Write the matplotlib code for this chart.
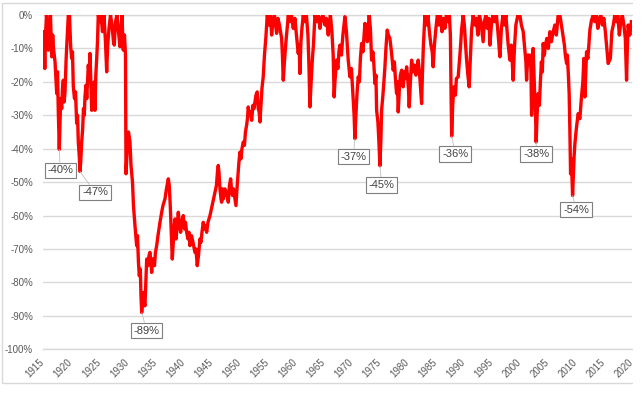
import numpy as np
import matplotlib.pyplot as plt
from matplotlib.patches import Rectangle
from matplotlib.ticker import FuncFormatter

# drawdown from previous high, in %
years = [
    1915.02, 1915.20, 1915.34, 1915.46, 1915.64, 1915.82, 1915.96, 1916.18, 1916.35, 1916.57,
    1916.75, 1916.89, 1917.16, 1917.30, 1917.46, 1917.60, 1917.74, 1917.92, 1918.05, 1918.17,
    1918.35, 1918.49, 1918.64, 1918.80, 1918.94, 1919.12, 1919.24, 1919.38, 1919.53, 1919.74,
    1919.95, 1920.13, 1920.27, 1920.42, 1920.63, 1920.81, 1921.02, 1921.17, 1921.31, 1921.49,
    1921.61, 1921.74, 1921.91, 1922.09, 1922.23, 1922.38, 1922.50, 1922.68, 1922.82, 1922.95,
    1923.09, 1923.25, 1923.39, 1923.54, 1923.70, 1923.84, 1923.98, 1924.14, 1924.28, 1924.43,
    1924.59, 1924.73, 1924.87, 1925.17, 1925.35, 1925.62, 1925.89, 1926.15, 1926.37, 1926.55,
    1926.78, 1927.05, 1927.31, 1927.58, 1927.72, 1927.94, 1928.20, 1928.47, 1928.74, 1928.92,
    1929.09, 1929.33, 1929.54, 1929.72, 1929.81, 1930.04, 1930.25, 1930.52, 1930.70, 1930.97,
    1931.14, 1931.41, 1931.71, 1931.86, 1932.03, 1932.18, 1932.36, 1932.48, 1932.61, 1932.78,
    1932.89, 1933.05, 1933.19, 1933.34, 1933.50, 1933.73, 1933.91, 1934.08, 1934.26, 1934.39,
    1934.53, 1934.67, 1934.89, 1935.06, 1935.28, 1935.51, 1935.69, 1935.87, 1936.17, 1936.40,
    1936.76, 1937.02, 1937.35, 1937.52, 1937.70, 1937.88, 1938.06, 1938.24, 1938.36, 1938.54,
    1938.72, 1938.84, 1938.98, 1939.13, 1939.31, 1939.55, 1939.70, 1940.02, 1940.23, 1940.41,
    1940.62, 1940.86, 1941.03, 1941.21, 1941.48, 1941.75, 1942.10, 1942.28, 1942.51, 1942.73,
    1942.99, 1943.17, 1943.35, 1943.58, 1943.80, 1943.97, 1944.19, 1944.42, 1944.60, 1944.78,
    1945.04, 1945.31, 1945.67, 1945.93, 1946.11, 1946.25, 1946.38, 1946.56, 1946.74, 1946.86,
    1947.00, 1947.18, 1947.45, 1947.63, 1947.81, 1948.04, 1948.25, 1948.46, 1948.61, 1948.79,
    1948.96, 1949.23, 1949.41, 1949.59, 1949.77, 1949.94, 1950.12, 1950.30, 1950.48, 1950.71,
    1950.92, 1951.10, 1951.31, 1951.46, 1951.60, 1951.81, 1951.99, 1952.21, 1952.44, 1952.62,
    1952.79, 1952.97, 1953.20, 1953.38, 1953.54, 1953.69, 1953.86, 1954.04, 1954.27, 1954.49,
    1954.75, 1954.99, 1955.29, 1955.56, 1955.77, 1956.00, 1956.27, 1956.66, 1956.89, 1957.16,
    1957.55, 1957.69, 1957.84, 1958.05, 1958.32, 1958.59, 1958.73, 1959.03, 1959.30, 1959.62,
    1959.92, 1960.19, 1960.51, 1960.67, 1960.81, 1960.99, 1961.17, 1961.40, 1961.70, 1961.97,
    1962.24, 1962.42, 1962.59, 1962.81, 1963.04, 1963.22, 1963.49, 1963.84, 1964.11, 1964.38,
    1964.64, 1964.91, 1965.27, 1965.53, 1965.86, 1966.07, 1966.25, 1966.51, 1966.74, 1966.91,
    1967.05, 1967.35, 1967.58, 1967.76, 1967.94, 1968.21, 1968.47, 1968.83, 1969.10, 1969.42,
    1969.72, 1969.99, 1970.31, 1970.47, 1970.61, 1970.79, 1970.97, 1971.20, 1971.41, 1971.59,
    1971.81, 1972.04, 1972.40, 1972.66, 1972.84, 1973.02, 1973.16, 1973.37, 1973.59, 1973.82,
    1974.00, 1974.18, 1974.36, 1974.48, 1974.71, 1974.89, 1975.07, 1975.25, 1975.37, 1975.60,
    1975.78, 1975.96, 1976.14, 1976.37, 1976.58, 1976.85, 1977.12, 1977.44, 1977.65, 1977.83,
    1978.04, 1978.19, 1978.33, 1978.54, 1978.72, 1978.94, 1979.08, 1979.22, 1979.43, 1979.61,
    1979.83, 1979.97, 1980.15, 1980.29, 1980.50, 1980.72, 1980.95, 1981.22, 1981.48, 1981.89,
    1982.11, 1982.28, 1982.50, 1982.64, 1982.82, 1983.00, 1983.09, 1983.35, 1983.62, 1983.89,
    1984.16, 1984.39, 1984.56, 1984.78, 1985.05, 1985.31, 1985.58, 1985.85, 1986.12, 1986.38,
    1986.65, 1986.92, 1987.19, 1987.45, 1987.63, 1987.76, 1987.86, 1988.04, 1988.25, 1988.52,
    1988.70, 1989.02, 1989.23, 1989.41, 1989.62, 1989.91, 1990.12, 1990.30, 1990.52, 1990.75,
    1990.98, 1991.16, 1991.41, 1991.69, 1992.00, 1992.26, 1992.53, 1992.80, 1993.06, 1993.47,
    1993.69, 1993.95, 1994.22, 1994.49, 1994.67, 1994.94, 1995.20, 1995.56, 1995.83, 1996.10,
    1996.45, 1996.72, 1996.99, 1997.25, 1997.52, 1997.88, 1998.23, 1998.50, 1998.82, 1999.04,
    1999.30, 1999.66, 2000.02, 2000.28, 2000.61, 2000.82, 2001.09, 2001.21, 2001.44, 2001.80,
    2001.98, 2002.10, 2002.24, 2002.38, 2002.54, 2002.69, 2002.81, 2002.92, 2003.08, 2003.27,
    2003.49, 2003.67, 2003.85, 2004.02, 2004.17, 2004.38, 2004.56, 2004.83, 2005.09, 2005.36,
    2005.63, 2005.95, 2006.25, 2006.52, 2006.84, 2007.15, 2007.41, 2007.68, 2007.95, 2008.12,
    2008.34, 2008.48, 2008.66, 2008.80, 2008.93, 2009.05, 2009.19, 2009.41, 2009.55, 2009.69,
    2009.82, 2010.08, 2010.40, 2010.71, 2010.97, 2011.24, 2011.42, 2011.60, 2011.90, 2012.13,
    2012.31, 2012.49, 2012.79, 2013.11, 2013.38, 2013.64, 2013.91, 2014.18, 2014.45, 2014.71,
    2014.98, 2015.25, 2015.52, 2015.75, 2015.87, 2016.14, 2016.41, 2016.67, 2016.94, 2017.21,
    2017.48, 2017.74, 2018.01, 2018.28, 2018.55, 2018.81, 2019.03, 2019.17, 2019.31, 2019.61,
    2019.88,
]
drawdown = [
    -5, -8, -16, -6, 0, -4, -10.5, -3, 0, -12.5,
    -6, -10, -14, -18.5, -23.5, -17, -28.5, -40.2, -32, -25,
    -28, -22, -19.5, -26, -23, -14, -9.5, -5, 0, 0,
    -9.5, -13, -11, -21.4, -25, -23, -32.4, -30, -38, -42.4,
    -46.8, -44, -38, -34, -28, -30, -24.4, -21, -25, -20,
    -15, -18, -11.5, -20, -28.5, -22, -26, -20, -28.5, -18,
    -13, -8, 0, -2, 0, -5, 0, -8, -17, -9,
    -4, 0, -3, -8, -9, -2, 0, -5, -9.5, -4,
    0, -10.5, -6, -12, -47.5, -40, -35, -38, -45, -50,
    -57, -63, -69, -66, -74, -78, -76, -84, -89, -85,
    -83, -86, -87, -80, -73, -75, -72, -71, -74, -77,
    -73, -73, -75, -71, -69, -66, -64, -62, -59, -57,
    -55, -52, -49, -51, -57, -65, -73, -68, -64, -61,
    -67, -65, -62, -59, -62, -65, -62, -60, -64, -62,
    -65, -67, -65, -69, -66, -68, -71, -70, -75, -72,
    -67, -68, -65, -62, -64, -63, -65, -62, -61, -60,
    -58, -56, -53, -51, -47, -45, -47, -52, -55, -56,
    -52, -55, -52, -54, -53, -56, -51, -49, -52, -54,
    -52, -55, -57, -52, -48, -44, -41, -43, -40, -38,
    -39, -35, -33, -31, -27.5, -30, -29, -31.5, -27, -28,
    -26, -24, -23, -28, -29, -32, -27, -22, -18.5, -12,
    -6.5, 0, -3, 0, -6, -2, 0, -5.5, -1, -3,
    -7, -12, -19.5, -14, -8, -3, 0, -2, 0, -4,
    -1, -6, -11.5, -9, -17.5, -8, -4, 0, -2, 0,
    -6, -15, -27.5, -20, -13, -9, 0, -2, 0, -4,
    -1, 0, -3, -1, -6, -2, 0, -5, -12, -24.5,
    -20, -13.5, -16, -11, -9, -12, -6, -0.5, -5, -13.5,
    -18.5, -16, -25.5, -30, -37, -30, -24, -18.5, -20, -13,
    -8.5, -11, -2.5, -6, -8, -3, 0, -4, -13.5, -11,
    -15, -20.5, -18, -28.5, -32, -38, -45.1, -37, -28.5, -24,
    -20, -15.5, -10, -4.5, -6, -7, -11, -16.5, -14, -19,
    -23.5, -20, -29, -22, -18, -16.5, -19, -21.5, -17, -19,
    -15.5, -18, -22, -27.5, -20, -13.5, -17, -15, -18, -13.5,
    -17, -21, -26.5, -18, -9, -3, 0, -3, 0, -5,
    -9, -11, -15.5, -9, -4, 0, -3, 0, -5, -1,
    -4, 0, -2, 0, -6, -25, -36.2, -27, -21.5, -24,
    -19, -18.5, -14, -10, -4.5, 0, -3, -8, -13.5, -18,
    -21.5, -14, -4.5, 0, -3, -1, -6, 0, -2, -8,
    -2, 0, -4, -1, -9, -3, 0, -2, 0, -5,
    -12.5, -4, 0, -3, 0, -8, -13.5, -9, -19.5, -10,
    -3, 0, 0, -3, -5, -9, -14, -19.5, -12, -12,
    -16, -30, -20, -10, -18, -25.5, -30, -38, -30, -23.5,
    -27, -20, -14, -17, -8.5, -12, -9, -7, -10, -5,
    -8, -5, -3, -6, 0, 0, -3, -6, -9, -12,
    -14.5, -12, -18, -23.5, -35, -47.5, -43, -54, -48, -42,
    -38.5, -34, -29.5, -31, -25, -20, -13, -24.5, -11, -13,
    -9, -4.5, -1.5, 0, -2, 0, -4, -1, 0, -3,
    -1, -5, -10, -14.5, -14, -13, -5, -3, 0, -2,
    0, -6, -2, 0, -3, -7, -19.5, -10, -3, -6,
    -2,
]

# troughs that carry a label, and where the label box sits (pixels from the point)
trough_years = [1917.92, 1921.61, 1932.61, 1970.61, 1975.07, 1987.86, 2002.92, 2009.41]
label_offsets = [(1, -21), (15, -21), (5, -18), (-1.5, -18), (1.7, -19.5), (3.5, -18), (0, -12), (3.5, -14)]

tick_years = list(range(1915, 2021, 5))

plt.rcParams['font.family'] = ['Liberation Sans', 'DejaVu Sans']

fig = plt.figure(figsize=(6.42, 3.99), dpi=100)
ax = fig.add_axes([42.9 / 642, 1 - 349.3 / 399, 589.1 / 642, 334.3 / 399])

ax.plot(np.array(years), np.array(drawdown) / 100, color='#ff0000', lw=2.4, zorder=3)

ax.set_xlim(1915, 2020)
ax.set_ylim(-1, 0)
ax.set_yticks(np.linspace(-1, 0, 11))
ax.yaxis.set_major_formatter(FuncFormatter(lambda v, p: f"{round(v * 100)}%" if round(v * 100) != 0 else "0%"))
ax.set_xticks(tick_years)
ax.set_xticklabels([str(t) for t in tick_years])

ax.yaxis.grid(True, color='#d9d9d9', lw=1)
ax.set_axisbelow(True)
for side in ['left', 'right']:
    ax.spines[side].set_visible(False)
for side in ['top', 'bottom']:
    ax.spines[side].set_color('#d9d9d9')
    ax.spines[side].set_linewidth(1)

ax.tick_params(axis='y', length=0, pad=7, labelsize=7, labelcolor='#595959')
ax.tick_params(axis='x', length=0, pad=8, labelsize=7, labelcolor='#595959')
plt.setp(ax.get_xticklabels(), rotation=45, ha='right', va='center', rotation_mode='anchor')

for ty, (dx, dy) in zip(trough_years, label_offsets):
    v = drawdown[years.index(ty)]
    ax.annotate(f"{v:.0f}%", xy=(ty, v / 100), xytext=(dx, dy), textcoords='offset pixels',
                ha='center', va='center', fontsize=8, color='#404040', zorder=5,
                bbox=dict(boxstyle='square,pad=0.25', fc='white', ec='#7f7f7f', lw=0.8),
                arrowprops=dict(arrowstyle='-', color='#bfbfbf', lw=0.6, shrinkA=0, shrinkB=0))

# chart frame, cut off on the right like the original screenshot
fig.add_artist(Rectangle((2 / 642, 1 - 383 / 399), 645 / 642, 380 / 399, transform=fig.transFigure,
                         fill=False, ec='#d9d9d9', lw=1))
fig.add_artist(Rectangle((633 / 642, 0), 9 / 642, 1, transform=fig.transFigure,
                         fc='white', ec='none', zorder=10))

fig.savefig('out.png', dpi=100)
